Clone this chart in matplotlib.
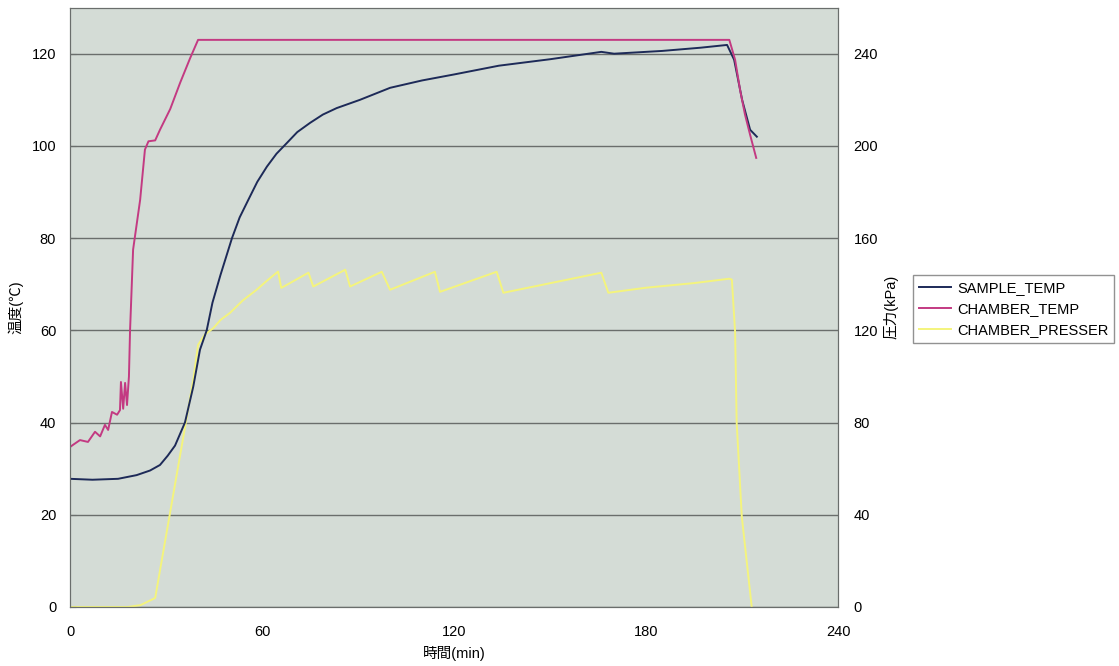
import matplotlib
matplotlib.use("Agg")
import matplotlib.pyplot as plt

plt.rcParams['font.family'] = ['Liberation Sans', 'Noto Sans CJK JP', 'DejaVu Sans']

# SAMPLE_TEMP (℃)
t_sample = [0, 7, 15, 20.8, 25, 28.1, 30.5, 32.8, 35.9, 38.5, 40.6, 42.7, 44.5, 47, 50.6, 53,
            55.7, 58.5, 61.5, 64.5, 67.7, 71, 75, 79, 83.3, 90.6, 100, 110, 120, 134, 150, 166,
            170, 185, 197, 205.3, 207.5, 210, 212.5, 214.6]
v_sample = [27.8, 27.6, 27.8, 28.6, 29.6, 30.8, 32.8, 35, 40, 47.8, 55.8, 60, 66, 72, 80, 84.5,
            88.3, 92.2, 95.5, 98.3, 100.6, 103, 105, 106.8, 108.2, 110, 112.6, 114.2, 115.5,
            117.4, 118.8, 120.4, 120, 120.6, 121.3, 121.9, 118.7, 110, 103.5, 102]

# CHAMBER_TEMP (℃)
t_chamber = [0, 1, 3.1, 5.6, 7.8, 9.4, 10.9, 11.9, 13.1, 14.7, 15.6, 15.9, 16.6, 17.2, 17.8,
             18.4, 18.75, 19.7, 21.9, 23.4, 24.5, 26.6, 28.1, 31.3, 34.4, 37.5, 40,
             206, 207.8, 209.4, 210.9, 212.5, 214.4]
v_chamber = [34.7, 35.2, 36.2, 35.8, 38, 37, 39.5, 38.4, 42.3, 41.7, 42.7, 48.8, 43, 48.6, 43.8,
             50, 60, 77.5, 88.3, 99.2, 101, 101.2, 103.5, 108, 113.7, 119, 123,
             123, 118.7, 112, 106.8, 102.4, 97.4]

# CHAMBER_PRESSER (kPa)
t_press = [0, 18, 22, 26.6, 38.5, 40, 42, 44.8, 47, 50, 54, 58.3, 61.5, 65, 66, 74.5, 76, 86,
           87.5, 97.4, 100, 114, 115.6, 133.3, 135.4, 166, 168.2, 180, 195, 206, 206.8,
           207.8, 208.3, 209.9, 213]
v_press = [0, 0, 0.8, 3.9, 98.5, 113.7, 118, 121, 124.5, 127.6, 133, 137.6, 141.5, 145.5, 138.4,
           145, 139, 146.3, 139, 145.4, 137.6, 145.4, 136.7, 145.4, 136.3, 145, 136.3, 138.5,
           140.5, 142.4, 142, 119.5, 79.9, 39.2, 0]

fig = plt.figure(figsize=(11.19, 6.66), dpi=100)
ax2 = fig.add_axes([0.0626, 0.0886, 0.6864, 0.9])
ax = ax2.twinx()
# temperature axis on the left, drawn on top
ax.yaxis.tick_left()
ax.yaxis.set_label_position('left')
ax2.yaxis.tick_right()
ax2.yaxis.set_label_position('right')

ax2.set_facecolor('#d4dcd6')
ax.patch.set_visible(False)

l3, = ax2.plot(t_press, v_press, color='#f4f47c', lw=1.4)
l1, = ax.plot(t_sample, v_sample, color='#1d2a58', lw=1.4)
l2, = ax.plot(t_chamber, v_chamber, color='#c33a82', lw=1.4)

ax.set_xlim(0, 240)
ax.set_ylim(0, 130)
ax2.set_ylim(0, 260)
ax2.set_xticks([0, 60, 120, 180, 240])
ax.set_yticks([0, 20, 40, 60, 80, 100, 120])
ax2.set_yticks([0, 40, 80, 120, 160, 200, 240])
ax2.grid(axis='y', color='#6a6e6c', lw=1.0)
ax2.grid(axis='x', visible=False)
ax2.set_axisbelow(True)

ax.tick_params(axis='y', direction='in', length=4, color='#6a6e6c', labelsize=10.5, pad=10)
ax2.tick_params(axis='y', length=0, labelsize=10.5, pad=11)
ax2.tick_params(axis='x', direction='in', length=0, labelsize=10.5, pad=13)
for a in (ax, ax2):
    for s in a.spines.values():
        s.set_color('#6a6e6c')

ax.set_ylabel('温度(℃)', fontsize=10.5, labelpad=6)
ax2.set_ylabel('圧力(kPa)', fontsize=10.5, labelpad=4)
ax2.set_xlabel('時間(min)', fontsize=10.5, labelpad=5)

leg = fig.legend([l1, l2, l3], ['SAMPLE_TEMP', 'CHAMBER_TEMP', 'CHAMBER_PRESSER'],
                 loc='upper left', bbox_to_anchor=(0.816, 0.587), fontsize=10.5,
                 frameon=True, fancybox=False, handlelength=2.2, handletextpad=0.4,
                 borderpad=0.4, labelspacing=0.5, borderaxespad=0)
leg.get_frame().set_edgecolor('#777777')
leg.get_frame().set_linewidth(1.0)

fig.savefig('out.png', dpi=100)
